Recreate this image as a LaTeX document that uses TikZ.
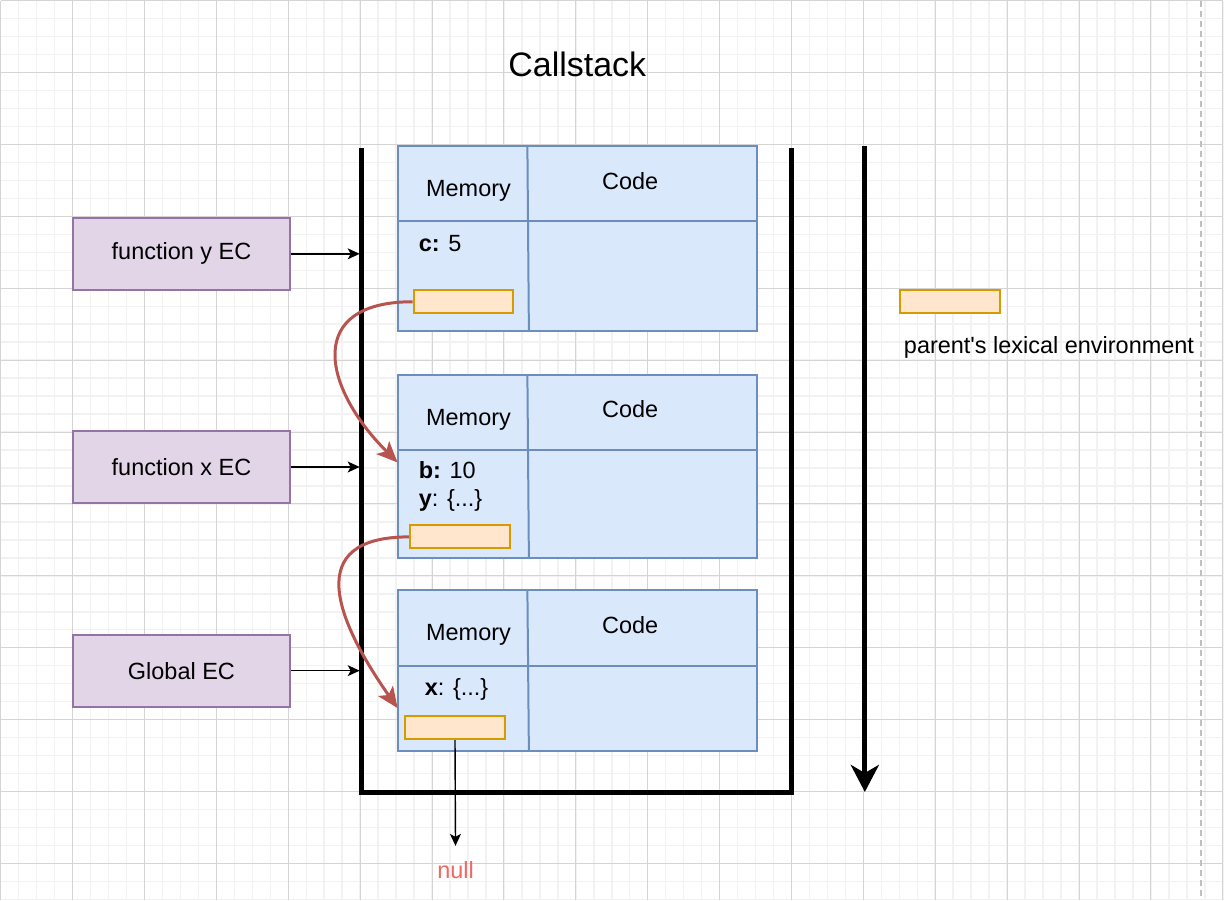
\documentclass[tikz,border=0pt]{standalone}
\usepackage{fontspec}
\setmainfont{Liberation Sans}
\usetikzlibrary{arrows.meta}
\definecolor{minorgrid}{HTML}{F2F2F2}
\definecolor{majorgrid}{HTML}{D4D4D4}
\definecolor{frameline}{HTML}{6C8EBF}
\definecolor{framefill}{HTML}{DAE8FC}
\definecolor{ecline}{HTML}{9673A6}
\definecolor{ecfill}{HTML}{E1D5E7}
\definecolor{lexline}{HTML}{D79B00}
\definecolor{lexfill}{HTML}{FFE6CC}
\definecolor{scopered}{HTML}{B85450}
\definecolor{nullred}{HTML}{EA6B66}
\begin{document}
\begin{tikzpicture}[x=1pt,y=-1pt,
    txt/.style={font=\fontsize{23.5}{28}\selectfont,inner sep=0pt},
    ecbox/.style={txt,draw=ecline,fill=ecfill,line width=2pt,
        minimum width=217pt,minimum height=72pt},
    lexbox/.style={draw=lexline,fill=lexfill,line width=2pt,
        minimum width=100pt,minimum height=23pt,inner sep=0pt},
    frame/.style={draw=frameline,fill=framefill,line width=2pt},
    ptr/.style={-{Stealth[length=12pt,width=11pt,inset=3pt]},line width=1.4pt},
    scope/.style={-{Stealth[length=21pt,width=18pt,inset=5pt]},
        draw=scopered,line width=3pt}]

    % background grid
    \fill[white] (0,0) rectangle (1224,900);
    \foreach \k in {0,18,...,1224}
        \draw[minorgrid,line width=1.5pt] (\k-0.5,0) -- (\k-0.5,900);
    \foreach \k in {0,18,...,900}
        \draw[minorgrid,line width=1.5pt] (0,\k-0.5) -- (1224,\k-0.5);
    \foreach \k in {0,72,...,1224}
        \draw[majorgrid,line width=1pt] (\k-0.5,0) -- (\k-0.5,900);
    \foreach \k in {0,72,...,900}
        \draw[majorgrid,line width=1pt] (0,\k-0.5) -- (1224,\k-0.5);
    \draw[black!25,line width=1.5pt,dash pattern=on 6pt off 4pt]
        (1201.5,0) -- (1201.5,900);
    \useasboundingbox (0,0) rectangle (1224,900);

    \node[txt,font=\fontsize{34}{40}\selectfont] (title) at (577,63) {Callstack};

    % stack frames
    \foreach \top/\mid/\bot/\i in {145/220.5/330/1,374/449/558/2,590/665.5/751/3}{
        \draw[frame] (397,\top) rectangle (757,\bot);
        \draw[frame] (397,\mid) -- (757,\mid);
        \draw[frame] (527,\top) -- (528.5,\bot);
        \node[txt] (mem\i) at (468,\top+45) {Memory};
        \node[txt] (code\i) at (630,\top+35) {Code};
    }

    \node[txt,anchor=west] (varc) at (418,243) {\textbf{c:} 5};
    \node[txt,anchor=west] (varb) at (418,470) {\textbf{b:} 10};
    \node[txt,anchor=west] (vary) at (418,500) {\textbf{y}: \{...\}};
    \node[txt,anchor=west] (varx) at (424,689) {\textbf{x}: \{...\}};

    \node[lexbox] (lexy) at (463,301) {};
    \node[lexbox] (lexx) at (459.5,536.5) {};
    \node[lexbox] (lexg) at (454.5,727.5) {};

    % stack walls
    \draw[line width=5pt,miter limit=10] (361,147) -- (361,793) -- (792,793) -- (792,147);
    \coordinate (wall) at (359,0);
    \coordinate (stacktop) at (865,145);
    \coordinate (stackbot) at (865,792);
    \draw[line width=5pt,-{Stealth[length=27pt,width=28pt,inset=8pt]}]
        (stacktop) -- (stackbot);

    % execution contexts
    \node[ecbox] (ecy) at (180.5,253) {function y EC};
    \node[ecbox] (ecx) at (180.5,466.5) {function x EC};
    \node[ecbox] (ecg) at (180.5,670.5) {Global EC};
    \draw[ptr] (ecy.east) -- (ecy.east -| wall);
    \draw[ptr] (ecx.east) -- (ecx.east -| wall);
    \draw[ptr] (ecg.east) -- (ecg.east -| wall);

    % scope chain
    \coordinate (inx) at (397,462);
    \coordinate (ing) at (397,708);
    \draw[scope] (lexy.west) to[out=180,in=135,looseness=1.7] (inx);
    \draw[scope] (lexx.west) to[out=180,in=125,looseness=1.6] (ing);

    \node[txt,text=nullred] (nul) at (455,870) {null};
    \coordinate (nullend) at (455,846);
    \draw[ptr] (lexg.south) -- (nullend);

    % legend
    \node[lexbox] (legbox) at (950.5,301) {};
    \node[txt,anchor=west] (legtxt) at (904,347) {parent\textquotesingle s lexical environment};

\end{tikzpicture}
\end{document}
